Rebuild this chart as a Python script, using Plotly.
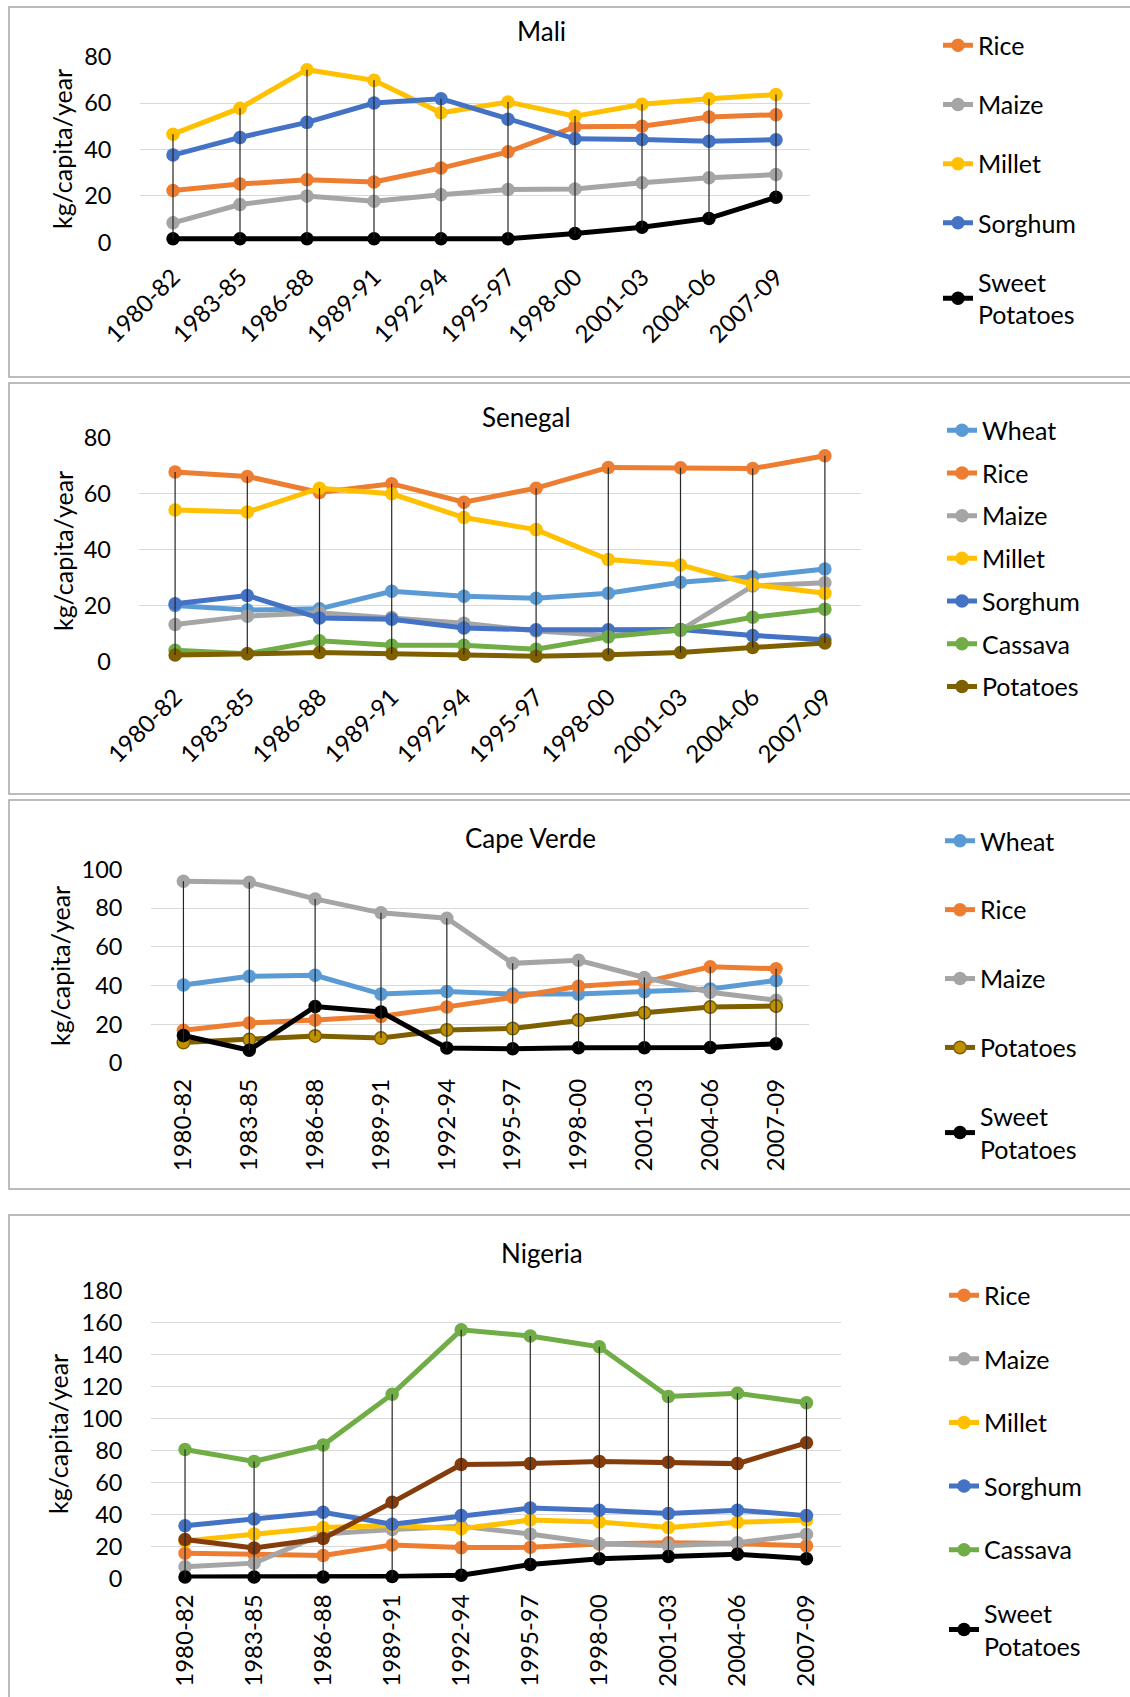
import plotly.graph_objects as go

W, H = 1130, 1697

periods = ["1980-82", "1983-85", "1986-88", "1989-91", "1992-94",
           "1995-97", "1998-00", "2001-03", "2004-06", "2007-09"]

# ---- Mali ----
mali_rice = [22.3, 25.1, 27.0, 26.0, 32.0, 39.0, 49.8, 50.0, 54.0, 55.0]
mali_maize = [8.4, 16.3, 20.0, 17.7, 20.5, 22.8, 23.0, 25.7, 27.8, 29.2]
mali_millet = [46.6, 57.8, 74.4, 69.8, 55.8, 60.5, 54.4, 59.5, 61.9, 63.7]
mali_sorghum = [37.6, 45.2, 51.7, 60.0, 61.9, 53.0, 44.6, 44.3, 43.6, 44.2]
mali_sweet_potatoes = [1.5, 1.5, 1.5, 1.5, 1.5, 1.5, 3.8, 6.5, 10.3, 19.4]

# ---- Senegal ----
sen_wheat = [20.0, 18.4, 18.8, 25.1, 23.3, 22.6, 24.4, 28.3, 30.3, 33.0]
sen_rice = [67.7, 66.1, 60.4, 63.5, 56.9, 61.9, 69.3, 69.2, 68.9, 73.5]
sen_maize = [13.2, 16.2, 17.4, 15.7, 13.7, 10.9, 9.3, 11.1, 27.0, 28.1]
sen_millet = [54.1, 53.4, 61.9, 59.9, 51.4, 47.1, 36.4, 34.5, 27.5, 24.4]
sen_sorghum = [20.6, 23.6, 15.5, 15.1, 12.0, 11.3, 11.3, 11.4, 9.3, 7.8]
sen_cassava = [4.0, 2.8, 7.4, 5.8, 5.8, 4.4, 8.8, 11.3, 15.8, 18.7]
sen_potatoes = [2.3, 2.8, 3.2, 2.8, 2.5, 1.9, 2.4, 3.2, 5.0, 6.6]

# ---- Cape Verde ----
cv_wheat = [40.3, 44.8, 45.3, 35.6, 36.9, 35.6, 35.6, 36.8, 38.3, 42.6]
cv_rice = [16.9, 20.7, 22.2, 24.1, 29.0, 34.0, 39.7, 41.8, 49.7, 48.7]
cv_maize = [93.9, 93.4, 84.8, 77.6, 74.8, 51.5, 53.1, 44.2, 36.6, 32.4]
cv_potatoes = [10.6, 12.1, 14.0, 12.9, 17.1, 17.8, 22.2, 26.0, 28.9, 29.4]
cv_sweet_potatoes = [14.2, 6.6, 29.2, 26.4, 7.8, 7.4, 7.9, 7.9, 8.0, 10.0]

# ---- Nigeria ----
ng_rice = [15.8, 14.8, 14.4, 21.0, 19.3, 19.5, 21.6, 22.3, 21.8, 20.4]
ng_maize = [7.4, 9.6, 27.8, 30.6, 32.6, 27.8, 21.7, 20.4, 22.4, 27.6]
ng_millet = [23.5, 27.8, 31.8, 33.1, 31.1, 36.5, 35.3, 31.9, 35.2, 36.5]
ng_sorghum = [33.0, 37.2, 41.4, 33.9, 39.3, 44.0, 42.7, 40.6, 42.7, 39.3]
ng_cassava = [80.6, 73.2, 83.4, 115.2, 155.4, 151.5, 144.8, 113.8, 115.8, 109.8]
ng_other = [24.4, 19.0, 25.0, 47.6, 71.2, 71.8, 73.2, 72.6, 71.8, 84.8]
ng_sweet_potatoes = [1.0, 1.0, 1.0, 1.3, 2.0, 8.7, 12.3, 13.7, 15.2, 12.4]

C_WHEAT = "#5B9BD5"
C_RICE = "#ED7D31"
C_MAIZE = "#A5A5A5"
C_MILLET = "#FFC000"
C_SORGHUM = "#4472C4"
C_CASSAVA = "#70AD47"
C_POTATO = "#7F6000"
C_POTATO_FILL = "#BF9000"
C_SWEET = "#000000"
C_OTHER = "#843C0C"

FONT = "Lato"


def px_x(v):
    return v / W


def px_y(v):
    return 1 - v / H


# panel layout in pixels: plot area x0, x1, y_top, y_bottom, y max
panels = [
    dict(key="mali", title="Mali", x0=139.5, x1=809.5, yt=56.7, yb=242.3, ymax=80, dtick=20,
         tickangle=-45, xstand=15, title_xy=(541, 31), ytitle_xy=(62, 149),
         box=(9, 7, 1140, 377), legend_xy=(938, 22.5), gap=23.7,
         series=[("Rice", mali_rice, C_RICE, None),
                 ("Maize", mali_maize, C_MAIZE, None),
                 ("Millet", mali_millet, C_MILLET, None),
                 ("Sorghum", mali_sorghum, C_SORGHUM, None),
                 ("Sweet<br>Potatoes", mali_sweet_potatoes, C_SWEET, None)]),
    dict(key="senegal", title="Senegal", x0=139, x1=861, yt=437.5, yb=661.5, ymax=80, dtick=20,
         tickangle=-45, xstand=16, title_xy=(526, 417), ytitle_xy=(63, 551),
         box=(9, 383, 1140, 794), legend_xy=(942, 407.5), gap=7.2,
         series=[("Wheat", sen_wheat, C_WHEAT, None),
                 ("Rice", sen_rice, C_RICE, None),
                 ("Maize", sen_maize, C_MAIZE, None),
                 ("Millet", sen_millet, C_MILLET, None),
                 ("Sorghum", sen_sorghum, C_SORGHUM, None),
                 ("Cassava", sen_cassava, C_CASSAVA, None),
                 ("Potatoes", sen_potatoes, C_POTATO, None)]),
    dict(key="capeverde", title="Cape Verde", x0=150.5, x1=809, yt=869.5, yb=1063, ymax=100, dtick=20,
         tickangle=-90, xstand=10, title_xy=(530, 838), ytitle_xy=(60, 966),
         box=(9, 800, 1140, 1189), legend_xy=(940, 818), gap=33.4,
         series=[("Wheat", cv_wheat, C_WHEAT, None),
                 ("Rice", cv_rice, C_RICE, None),
                 ("Maize", cv_maize, C_MAIZE, None),
                 ("Potatoes", cv_potatoes, C_POTATO, C_POTATO_FILL),
                 ("Sweet<br>Potatoes", cv_sweet_potatoes, C_SWEET, None)]),
    dict(key="nigeria", title="Nigeria", x0=150.5, x1=841, yt=1290.5, yb=1578.5, ymax=180, dtick=20,
         tickangle=-90, xstand=10, title_xy=(542, 1253), ytitle_xy=(58, 1434),
         box=(9, 1215, 1140, 1720), legend_xy=(944, 1272.5), gap=28.1,
         series=[("Rice", ng_rice, C_RICE, None),
                 ("Maize", ng_maize, C_MAIZE, None),
                 ("Millet", ng_millet, C_MILLET, None),
                 ("Sorghum", ng_sorghum, C_SORGHUM, None),
                 ("Cassava", ng_cassava, C_CASSAVA, None),
                 ("Other", ng_other, C_OTHER, "hidden"),
                 ("Sweet<br>Potatoes", ng_sweet_potatoes, C_SWEET, None)]),
]

fig = go.Figure()
shapes = []
annotations = []
layout_axes = {}

for i, p in enumerate(panels):
    n = i + 1
    xa = "x" if n == 1 else f"x{n}"
    ya = "y" if n == 1 else f"y{n}"
    leg = "legend" if n == 1 else f"legend{n}"

    for k, (name, vals, color, extra) in enumerate(p["series"]):
        marker = dict(size=13.5, color=color, line=dict(width=0))
        if extra not in (None, "hidden"):
            marker = dict(size=12.5, color=extra, line=dict(width=1.5, color=color))
        fig.add_trace(go.Scatter(
            x=periods, y=vals, name=name, mode="lines+markers",
            xaxis=xa, yaxis=ya, legend=leg, legendgroup=f"{p['key']}{k}",
            showlegend=(extra != "hidden"),
            line=dict(color=color, width=5), marker=marker, cliponaxis=False))

    # high-low lines joining the largest and smallest value in each period
    all_vals = [s[1] for s in p["series"]]
    hl_x, hl_y = [], []
    for j, per in enumerate(periods):
        col = [v[j] for v in all_vals]
        hl_x += [per, per, None]
        hl_y += [max(col), min(col), None]
    fig.add_trace(go.Scatter(x=hl_x, y=hl_y, mode="lines", xaxis=xa, yaxis=ya,
                             line=dict(color="#262626", width=1.2), showlegend=False,
                             hoverinfo="skip", cliponaxis=False))

    layout_axes["xaxis" if n == 1 else f"xaxis{n}"] = dict(
        domain=[px_x(p["x0"]), px_x(p["x1"])], anchor=ya, type="category",
        range=[-0.5, 9.5], showgrid=False, showline=False, zeroline=False,
        ticks="", tickangle=p["tickangle"], automargin=False,
        ticklabelstandoff=p["xstand"],
        tickfont=dict(family=FONT, size=24, color="#000000"))
    layout_axes["yaxis" if n == 1 else f"yaxis{n}"] = dict(
        domain=[px_y(p["yb"]), px_y(p["yt"])], anchor=xa,
        range=[0, p["ymax"]], dtick=p["dtick"], showgrid=True, gridcolor="#D9D9D9",
        gridwidth=1.3, zeroline=False, showline=False, ticks="",
        ticklabelstandoff=27, automargin=False,
        tickfont=dict(family=FONT, size=23.5, color="#000000"))

    layout_axes[leg] = dict(
        x=px_x(p["legend_xy"][0]), y=px_y(p["legend_xy"][1]), xanchor="left", yanchor="top",
        font=dict(family=FONT, size=25, color="#000000"), bgcolor="rgba(0,0,0,0)",
        tracegroupgap=p["gap"], itemclick=False, itemdoubleclick=False)

    bx0, by0, bx1, by1 = p["box"]
    shapes.append(dict(type="rect", xref="paper", yref="paper",
                       x0=px_x(bx0), x1=px_x(bx1), y0=px_y(by1), y1=px_y(by0),
                       line=dict(color="#A6A6A6", width=1.5), layer="below"))

    annotations.append(dict(text=p["title"], xref="paper", yref="paper",
                            x=px_x(p["title_xy"][0]), y=px_y(p["title_xy"][1]),
                            xanchor="center", yanchor="middle", showarrow=False,
                            font=dict(family=FONT, size=26, color="#000000")))
    annotations.append(dict(text="kg/capita/year", xref="paper", yref="paper",
                            x=px_x(p["ytitle_xy"][0]), y=px_y(p["ytitle_xy"][1]),
                            xanchor="center", yanchor="middle", showarrow=False, textangle=-90,
                            font=dict(family=FONT, size=25, color="#000000")))

fig.update_layout(
    width=W, height=H, margin=dict(l=0, r=0, t=0, b=0),
    paper_bgcolor="white", plot_bgcolor="white",
    shapes=shapes, annotations=annotations, **layout_axes)

fig.write_html("out.html")
